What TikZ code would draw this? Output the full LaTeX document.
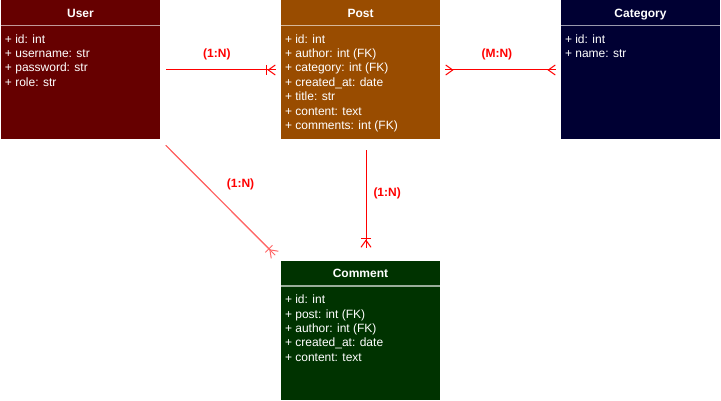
\documentclass[tikz,border=0pt]{standalone}
\usepackage{fontspec}
\setmainfont{Liberation Sans}
\usetikzlibrary{arrows.meta,positioning}

\definecolor{userred}{HTML}{660000}
\definecolor{postbrown}{HTML}{994C00}
\definecolor{catnavy}{HTML}{000033}
\definecolor{commentgreen}{HTML}{003300}
\definecolor{relred}{HTML}{FF0000}

\begin{document}
\begin{tikzpicture}[x=1pt, y=1pt,
  entity/.style={minimum width=159pt, minimum height=139pt, inner sep=0pt},
  title/.style={anchor=base, inner sep=0pt, text=white, font=\bfseries\fontsize{12}{14}\selectfont},
  attrs/.style={anchor=north west, align=left, inner sep=0pt, text=white, font=\fontsize{12}{14.4}\selectfont},
  divider/.style={draw=white, draw opacity=0.6, line width=1.5pt},
  rel/.style={draw=relred, line width=1pt},
  card/.style={inner sep=0pt, text=relred, font=\bfseries\fontsize{12}{14}\selectfont},
  onemany/.style={postaction={draw, -{Bar[width=10pt,sep=0pt]Straight Barb[reversed,length=7pt,width=10pt]}}},
  manymany/.style={postaction={draw, {Straight Barb[reversed,length=7pt,width=10pt]}-{Straight Barb[reversed,length=7pt,width=10pt]}}},
]
\useasboundingbox (0,0) rectangle (721,-401);

% Entities
\node[entity, fill=userred]     (user)     at (80.5,-70)   {};
\node[entity, fill=postbrown]   (post)     at (360.5,-70)  {};
\node[entity, fill=catnavy]     (category) at (640.5,-70)  {};
\node[entity, fill=commentgreen] (comment) at (360.5,-330.5) {};

% Titles and dividers
\node[title] (usertitle)     at ([yshift=-17pt]user.north)     {User};
\node[title] (posttitle)     at ([yshift=-17pt]post.north)     {Post};
\node[title] (categorytitle) at ([yshift=-17pt]category.north) {Category};
\node[title] (commenttitle)  at ([yshift=-17pt]comment.north)  {Comment};

\draw[divider] ([yshift=-25pt]user.north west) -- ([yshift=-25pt]user.north east);
\draw[divider] ([yshift=-25pt]post.north west) -- ([yshift=-25pt]post.north east);
\draw[divider] ([yshift=-25pt]category.north west) -- ([yshift=-25pt]category.north east);
\draw[divider] ([yshift=-25pt]comment.north west) -- ([yshift=-25pt]comment.north east);

% Attributes
\node[attrs] (userattrs) at ([xshift=4pt,yshift=-34pt]user.north west)
  {+ id: int\\+ username: str\\+ password: str\\+ role: str};
\node[attrs] (postattrs) at ([xshift=4pt,yshift=-34pt]post.north west)
  {+ id: int\\+ author: int (FK)\\+ category: int (FK)\\+ created\_at: date\\+ title: str\\+ content: text\\+ comments: int (FK)};
\node[attrs] (categoryattrs) at ([xshift=4pt,yshift=-34pt]category.north west)
  {+ id: int\\+ name: str};
\node[attrs] (commentattrs) at ([xshift=4pt,yshift=-34pt]comment.north west)
  {+ id: int\\+ post: int (FK)\\+ author: int (FK)\\+ created\_at: date\\+ content: text};

% Relations
\draw[rel, onemany, shorten <=6pt, shorten >=5pt] (user.east) -- node[card, pos=0.47, above=10pt] {(1:N)} (post.west);
\draw[rel, manymany, shorten <=5pt, shorten >=5pt] (post.east) -- node[card, pos=0.47, above=10pt] {(M:N)} (category.west);
\draw[rel, onemany, shorten <=10.5pt, shorten >=13pt] ([xshift=5.5pt]post.south) -- node[card, pos=0.44, right=7pt] {(1:N)} ([xshift=5.5pt]comment.north);
\draw[rel, onemany, draw=relred!60, shorten <=8pt, shorten >=8pt] (user.south east) -- node[card, pos=0.366, right=22pt] {(1:N)} (comment.north west);

\end{tikzpicture}
\end{document}
